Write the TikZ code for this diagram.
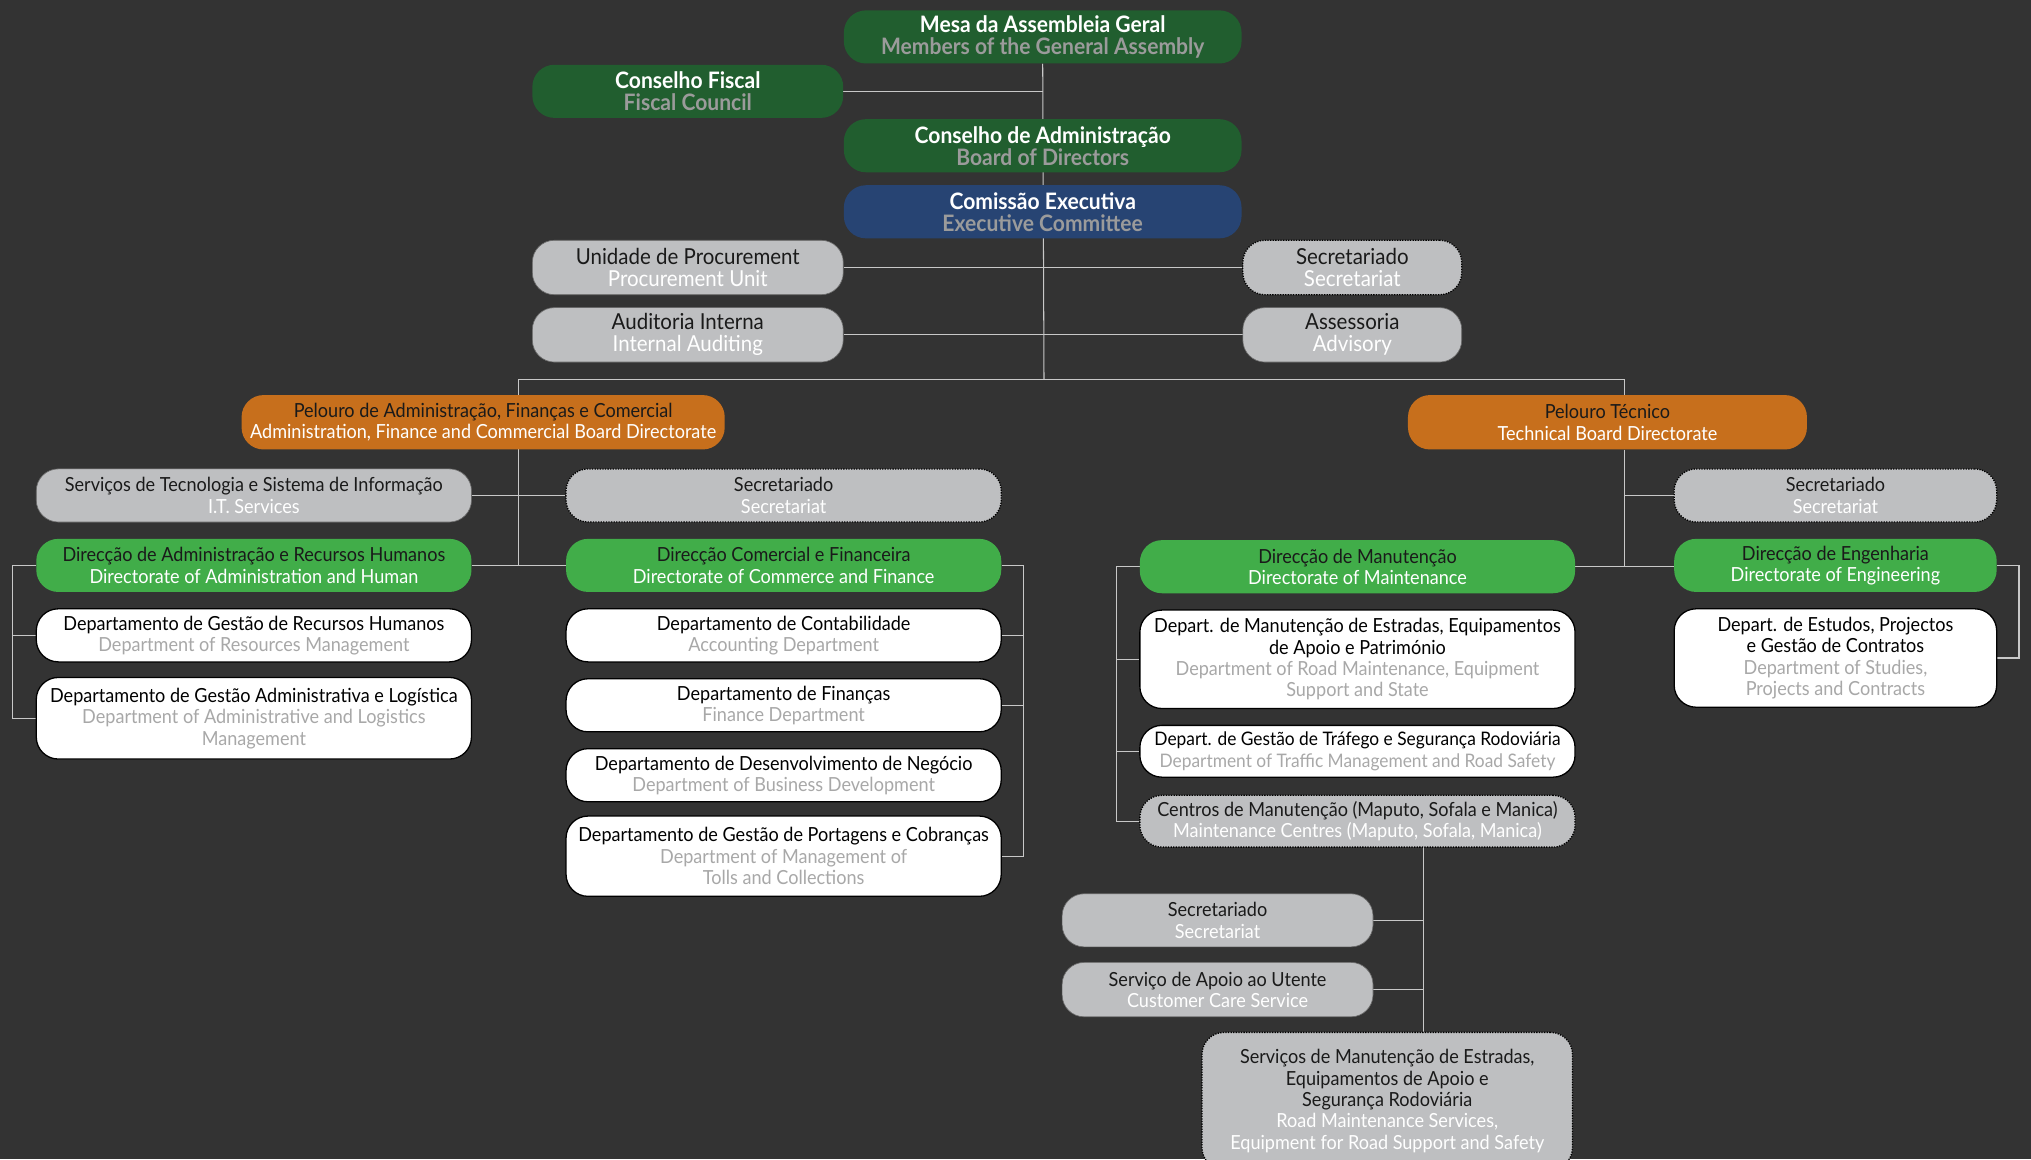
\documentclass[tikz,border=0pt]{standalone}
\usepackage{fontspec}
\setmainfont{Lato}[FakeStretch=0.93]
\usetikzlibrary{calc}
\definecolor{bgc}{HTML}{333333}
\definecolor{dgreen}{HTML}{215E2F}
\definecolor{dblue}{HTML}{274473}
\definecolor{lgray}{HTML}{BEBFC1}
\definecolor{orng}{HTML}{C76F1C}
\definecolor{bgreen}{HTML}{41AD49}
\definecolor{linec}{HTML}{C8C8C8}
\definecolor{topsub}{HTML}{9B9B9B}
\definecolor{whsub}{HTML}{A8A8A8}
\definecolor{darktxt}{HTML}{1A1A1A}
\definecolor{edge}{HTML}{6A6A6A}
\newcommand\entxt[1]{\textcolor{\subc}{#1}}
\pgfdeclarelayer{back}\pgfdeclarelayer{lines}\pgfsetlayers{back,lines,main}
\tikzset{
  box/.style={rectangle, rounded corners=17pt, align=center, inner sep=2pt,
    font=\fontsize{15}{16.5}\selectfont},
  topbox/.style={box, fill=dgreen, text=white, minimum width=307pt, minimum height=41pt,
    font=\bfseries\fontsize{17.5}{17}\selectfont, execute at begin node=\def\subc{topsub}},
  bluebox/.style={topbox, fill=dblue},
  graybox/.style={box, fill=lgray, draw=edge, line width=0.5pt, text=darktxt,
    execute at begin node=\def\subc{white}},
  bigtext/.style={font=\fontsize{17}{17}\selectfont},
  dotbox/.style={graybox, draw=black, dash pattern=on 1pt off 1pt, line width=1pt},
  orbox/.style={box, fill=orng, text=darktxt, execute at begin node=\def\subc{white}},
  grbox/.style={box, fill=bgreen, text=darktxt, execute at begin node=\def\subc{white}},
  whbox/.style={box, fill=white, draw=black, line width=1pt, text=black,
    execute at begin node=\def\subc{whsub}},
  conn/.style={draw=linec, line width=0.8pt},
}
\begin{document}
\begin{tikzpicture}[x=1pt,y=-1pt]
\useasboundingbox (0,0) rectangle (1568,895);
\begin{pgfonlayer}{back}
\fill[bgc] (0,0) rectangle (1568,895);
\end{pgfonlayer}
\clip (0,0) rectangle (1568,895);

% top column
\node[topbox] (mesa) at (805,28.5) {Mesa da Assembleia Geral\\\entxt{Members of the General Assembly}};
\node[topbox, minimum width=240pt] (fiscal) at (531,70.5) {Conselho Fiscal\\\entxt{Fiscal Council}};
\node[topbox] (cadm) at (805,112.5) {Conselho de Administração\\\entxt{Board of Directors}};
\node[bluebox] (comex) at (805,163.5) {Comissão Executiva\\\entxt{Executive Committee}};

\node[graybox, bigtext, minimum width=240pt, minimum height=42pt] (proc) at (531,206.5) {Unidade de Procurement\\\entxt{Procurement Unit}};
\node[dotbox, bigtext, minimum width=169pt, minimum height=42pt] (sec1) at (1044,206.5) {Secretariado\\\entxt{Secretariat}};
\node[graybox, bigtext, minimum width=240pt, minimum height=42pt] (audit) at (531,258.5) {Auditoria Interna\\\entxt{Internal Auditing}};
\node[graybox, bigtext, minimum width=169pt, minimum height=42pt] (assess) at (1044,258.5) {Assessoria\\\entxt{Advisory}};

% board directorates
\node[orbox, minimum width=373pt, minimum height=42pt] (padm) at (373,326) {Pelouro de Administração, Finanças e Comercial\\\entxt{Administration, Finance and Commercial Board Directorate}};
\node[orbox, minimum width=308pt, minimum height=42pt] (ptec) at (1241,326) {Pelouro Técnico\\\entxt{Technical Board Directorate}};

% left side
\node[graybox, minimum width=336pt, minimum height=41pt] (it) at (196,382.5) {Serviços de Tecnologia e Sistema de Informação\\\entxt{I.T. Services}};
\node[dotbox, minimum width=336pt, minimum height=41pt] (secl) at (605,382.5) {Secretariado\\\entxt{Secretariat}};
\node[grbox, minimum width=336pt, minimum height=41pt] (dadm) at (196,436.5) {Direcção de Administração e Recursos Humanos\\\entxt{Directorate of Administration and Human}};
\node[grbox, minimum width=336pt, minimum height=41pt] (dcom) at (605,436.5) {Direcção Comercial e Financeira\\\entxt{Directorate of Commerce and Finance}};
\node[whbox, minimum width=336pt, minimum height=41pt] (drh) at (196,490.5) {Departamento de Gestão de Recursos Humanos\\\entxt{Department of Resources Management}};
\node[whbox, minimum width=336pt, minimum height=63pt] (dlog) at (196,554.5) {Departamento de Gestão Administrativa e Logística\\\entxt{Department of Administrative and Logistics}\\\entxt{Management}};
\node[whbox, minimum width=336pt, minimum height=41pt] (dcont) at (605,490.5) {Departamento de Contabilidade\\\entxt{Accounting Department}};
\node[whbox, minimum width=336pt, minimum height=41pt] (dfin) at (605,544.5) {Departamento de Finanças\\\entxt{Finance Department}};
\node[whbox, minimum width=336pt, minimum height=41pt] (ddes) at (605,598.5) {Departamento de Desenvolvimento de Negócio\\\entxt{Department of Business Development}};
\node[whbox, minimum width=336pt, minimum height=62pt] (dport) at (605,661) {Departamento de Gestão de Portagens e Cobranças\\\entxt{Department of Management of}\\\entxt{Tolls and Collections}};

% right side
\node[dotbox, minimum width=249pt, minimum height=41pt] (secr) at (1417,382.5) {Secretariado\\\entxt{Secretariat}};
\node[grbox, minimum width=336pt, minimum height=41pt] (dman) at (1048,437.5) {Direcção de Manutenção\\\entxt{Directorate of Maintenance}};
\node[grbox, minimum width=249pt, minimum height=41pt] (deng) at (1417,436.5) {Direcção de Engenharia\\\entxt{Directorate of Engineering}};
\node[whbox, minimum width=249pt, minimum height=76pt] (dest) at (1417,508) {Depart. de Estudos, Projectos\\e Gestão de Contratos\\\entxt{Department of Studies,}\\\entxt{Projects and Contracts}};
\node[whbox, minimum width=336pt, minimum height=76pt] (dme) at (1048,509) {Depart. de Manutenção de Estradas, Equipamentos\\de Apoio e Património\\\entxt{Department of Road Maintenance, Equipment}\\\entxt{Support and State}};
\node[whbox, minimum width=336pt, minimum height=40pt, font=\fontsize{14.4}{16.5}\selectfont] (dtraf) at (1048,580) {Depart. de Gestão de Tráfego e Segurança Rodoviária\\\entxt{Department of Traffic Management and Road Safety}};
\node[dotbox, minimum width=336pt, minimum height=40pt] (centros) at (1048,634) {Centros de Manutenção (Maputo, Sofala e Manica)\\\entxt{Maintenance Centres (Maputo, Sofala, Manica)}};
\node[graybox, minimum width=240pt, minimum height=41pt] (secb) at (940,710.5) {Secretariado\\\entxt{Secretariat}};
\node[graybox, minimum width=240pt, minimum height=42pt] (apoio) at (940,764) {Serviço de Apoio ao Utente\\\entxt{Customer Care Service}};
\node[dotbox, minimum width=286pt, minimum height=106pt] (sme) at (1071,850) {Serviços de Manutenção de Estradas,\\Equipamentos de Apoio e\\Segurança Rodoviária\\\entxt{Road Maintenance Services,}\\\entxt{Equipment for Road Support and Safety}};

\begin{pgfonlayer}{lines}
\coordinate (hub) at (806,293);
\coordinate (lv) at (400,293);
\coordinate (rv) at (1254,293);
\coordinate (cv) at (1099,654);
\draw[conn] (mesa.south) -- (hub);
\draw[conn] (fiscal.east) -- (fiscal.east -| mesa.south);
\draw[conn] (proc.east) -- (sec1.west);
\draw[conn] (audit.east) -- (assess.west);
\draw[conn] (lv) -- (rv) -- (rv |- ptec.north);
\draw[conn] (lv) -- (lv |- dadm.east);
\draw[conn] (it.east) -- (secl.west);
\draw[conn] (dadm.east) -- (dcom.west);
\draw[conn] (dadm.west) -- ++(-18,0) |- (dlog.west);
\draw[conn] (drh.west) -- ++(-18,0);
\draw[conn] (dcom.east) -- ++(17,0) |- (dport.east);
\draw[conn] (dcont.east) -- ++(17,0);
\draw[conn] (dfin.east) -- ++(17,0);
\draw[conn] (rv |- ptec.south) -- (rv |- dman.east);
\draw[conn] (secr.west) -- (rv |- secr.west);
\draw[conn] (dman.east) -- (dman.east -| deng.west);
\draw[conn] (deng.east) -- ++(17,0) |- (dest.east);
\draw[conn] (dman.west) -- ++(-18,0) |- (centros.west);
\draw[conn] (dme.west) -- ++(-18,0);
\draw[conn] (dtraf.west) -- ++(-18,0);
\draw[conn] (cv) -- (cv |- sme.north);
\draw[conn] (secb.east) -- (secb.east -| cv);
\draw[conn] (apoio.east) -- (apoio.east -| cv);
\end{pgfonlayer}
\end{tikzpicture}
\end{document}
